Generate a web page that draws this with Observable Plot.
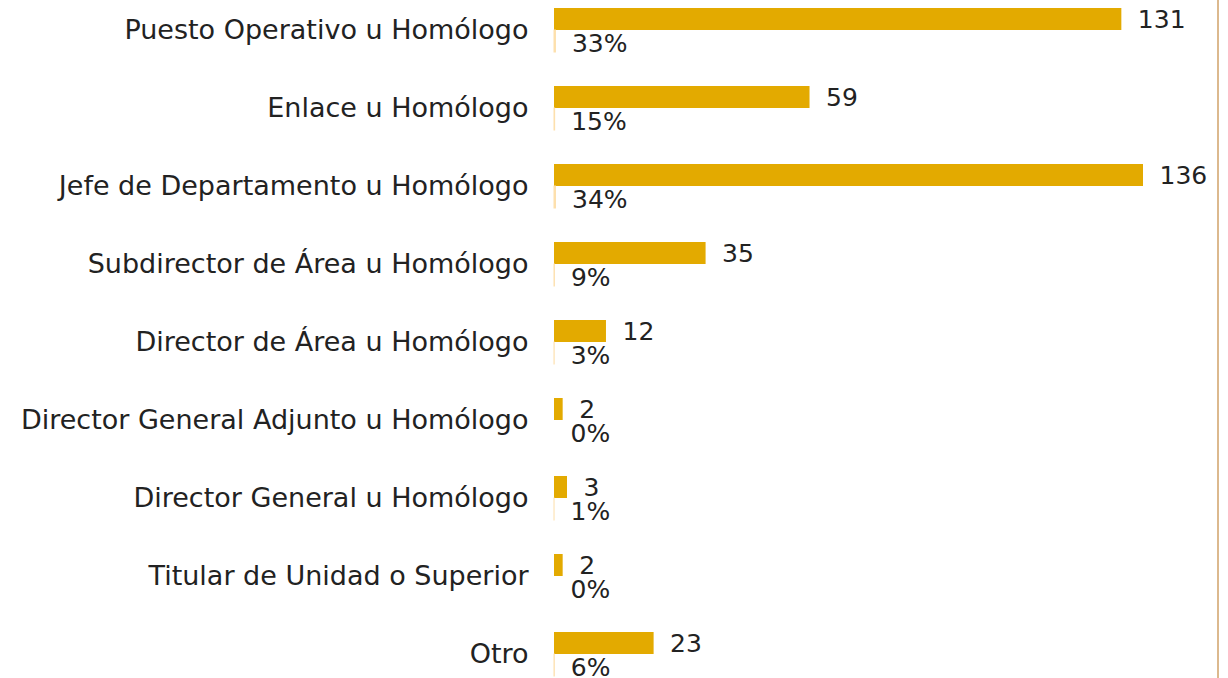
<!DOCTYPE html>
<html>
<head>
<meta charset="utf-8">
<script src="https://cdn.jsdelivr.net/npm/d3@7"></script>
<script src="https://cdn.jsdelivr.net/npm/@observablehq/plot@0.6"></script>
<style>
  html, body { margin: 0; padding: 0; background: #fff; }
  #wrap { position: relative; width: 1228px; height: 678px; overflow: hidden; }
  #edge { position: absolute; left: 1217px; top: 0; width: 2px; height: 678px; background: #dcb98e; }
</style>
</head>
<body>
<div id="wrap"><div id="chart"></div><div id="edge"></div></div>
<script>
const categories = [
  "Puesto Operativo u Homólogo",
  "Enlace u Homólogo",
  "Jefe de Departamento u Homólogo",
  "Subdirector de Área u Homólogo",
  "Director de Área u Homólogo",
  "Director General Adjunto u Homólogo",
  "Director General u Homólogo",
  "Titular de Unidad o Superior",
  "Otro"
];
const counts = [131, 59, 136, 35, 12, 2, 3, 2, 23];
const percents = [0.33, 0.15, 0.34, 0.09, 0.03, 0.00, 0.01, 0.00, 0.06];

const data = categories.map((c, i) => ({category: c, count: counts[i], pct: percents[i]}));
const font = "DejaVu Sans";

const chart = Plot.plot({
  width: 1228,
  height: 678,
  marginLeft: 554,
  marginRight: 85,
  marginTop: 0,
  marginBottom: 0,
  style: {fontFamily: font, fontSize: "25px", color: "#222", background: "transparent"},
  x: {domain: [0, 136], axis: null},
  y: {domain: categories, range: [-9, 693], padding: 0, label: null},
  marks: [
    Plot.axisY({tickSize: 0, tickPadding: 26, fontSize: 27, label: null, fill: "#222"}),
    Plot.barX(data, {y: "category", x: "count", fill: "#e3aa00", insetTop: 17, insetBottom: 39}),
    Plot.barX(data, {y: "category", x: "pct", fill: "#fde0ad", stroke: "#fde0ad", strokeWidth: 1, insetTop: 39, insetBottom: 17}),
    Plot.text(data, {y: "category", x: "count", text: d => String(d.count), dx: 16, dy: -11, textAnchor: "start", fontSize: 25, fill: "#222"}),
    Plot.text(data, {y: "category", x: "pct", text: d => Math.round(d.pct * 100) + "%", dx: 16, dy: 13, textAnchor: "start", fontSize: 25, fill: "#222"})
  ]
});
document.getElementById("chart").appendChild(chart);
</script>
</body>
</html>
